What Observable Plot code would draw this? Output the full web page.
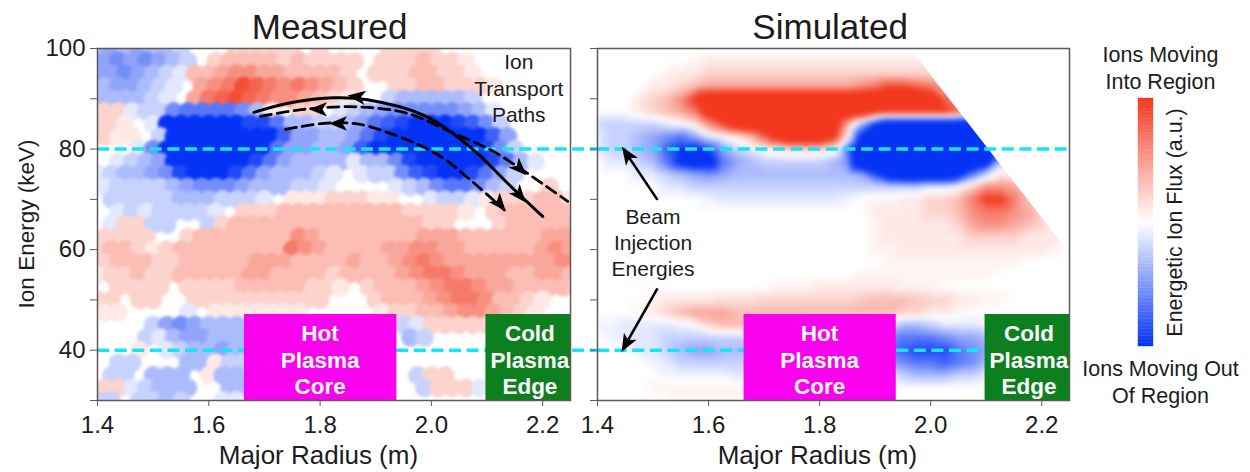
<!DOCTYPE html>
<html>
<head>
<meta charset="utf-8">
<script src="https://cdn.jsdelivr.net/npm/d3@7"></script>
<script src="https://cdn.jsdelivr.net/npm/@observablehq/plot@0.6"></script>
<style>
html,body{margin:0;padding:0;background:#fff;}
#stack{position:relative;width:1250px;height:472px;overflow:hidden;}
#stack svg{position:absolute;left:0;top:0;}
</style>
</head>
<body>
<div id="stack"></div>
<script>
const radiusGrid = [1.4,1.425,1.45,1.475,1.5,1.525,1.55,1.575,1.6,1.625,1.65,1.675,1.7,1.725,1.75,1.775,1.8,1.825,1.85,1.875,1.9,1.925,1.95,1.975,2.0,2.025,2.05,2.075,2.1,2.125,2.15,2.175,2.2,2.225,2.25];
const energyGrid = [100,97.5,95,92.5,90,87.5,85,82.5,80,77.5,75,72.5,70,67.5,65,62.5,60,57.5,55,52.5,50,47.5,45,42.5,40,37.5,35,32.5,30];

const measuredRows = [
[-3,-4,-3,-4,-3,-3,-2,0,0,0,2,2,2,2,2,0,2,0,0,0,0,2,2,2,2],
[-4,-5,-4,-5,-4,-3,-2,0,2,3,3,3,3,2,3,2,2,2,2,0,2,2,2,3,2,2,1],
[-4,-4,-5,-4,-3,-2,-1,3,3,4,5,5,4,4,3,3,3,3,2,0,2,2,2,3,3,2,2,1],
[-3,-4,-4,-3,-2,-1,0,4,5,6,8,7,6,5,6,5,4,3,2,0,0,2,2,3,3,2,2,2,1],
[-3,-3,-3,-3,-2,-1,0,4,6,7,8,7,6,5,5,4,3,2,1,0,0,-2,-3,-3,-3,-3,-3,-2],
[2,2,-1,-2,-2,-5,-6,-6,-6,-6,-5,-3,1,0,2,2,0,-1,-2,-3,-4,-5,-5,-5,-5,-5,-4,-3,-1],
[2,2,1,0,-1,-9,-9,-9,-9,-9,-9,-8,-8,-6,-3,-3,-2,-2,-3,-4,-6,-7,-8,-9,-9,-9,-8,-7,-5,-2],
[2,1,1,0,-2,-9,-9,-9,-9,-9,-9,-9,-9,-7,-4,-4,-3,-3,-4,-6,-8,-9,-9,-9,-9,-9,-9,-9,-7,-4],
[0,0,0,-1,-5,-9,-9,-9,-9,-9,-9,-9,-9,-6,-4,-4,-3,-3,-4,-7,-9,-9,-9,-9,-9,-9,-9,-9,-8,-5,-2],
[0,-1,-2,-3,-4,-9,-9,-9,-9,-9,-9,-8,-6,-4,-3,-3,-3,-3,-1,-3,-3,-5,-8,-9,-9,-9,-9,-9,-8,-6,-3,-1],
[-1,-2,-3,-3,-4,-5,-8,-9,-9,-9,-8,-6,-4,-3,-3,-3,-2,-1,0,-1,-2,-2,-5,-7,-8,-9,-9,-8,-6,-4,-2],
[-1,-2,-2,-2,-2,-3,-4,-5,-5,-5,-4,-3,-3,-3,-2,-2,-1,0,0,0,0,-1,-2,-3,-5,-6,-6,-5,-3,-2,0,0,2],
[0,-2,-2,-2,-2,-2,-3,-3,-3,-2,-2,-2,-1,0,1,1,1,2,2,2,1,1,0,0,-1,-2,-2,-1,1,2,2,2,3,3,1],
[0,-1,-2,-1,-2,-2,-2,-2,-1,0,2,2,2,3,3,3,3,3,3,3,3,3,2,2,2,2,1,0,2,3,3,3,3,3,2],
[0,-1,2,2,-2,-2,0,0,-2,2,3,3,3,3,3,3,3,3,3,3,3,3,3,3,2,2,0,0,0,2,3,3,3,3,3],
[2,2,2,2,0,0,2,3,3,3,3,3,3,3,5,4,3,3,3,3,3,3,3,4,4,4,3,3,3,3,3,3,4,4,4],
[2,3,3,2,1,2,3,3,3,3,3,3,3,3,6,5,4,3,3,3,3,4,4,5,5,4,4,3,3,3,3,3,4,5,4],
[2,3,3,3,2,2,3,3,3,3,3,4,4,4,3,3,3,3,4,3,3,4,5,6,5,4,4,4,4,4,4,4,4,5,5],
[1,2,2,3,2,2,3,3,3,3,3,4,4,3,3,3,3,2,3,3,3,3,4,5,6,6,5,4,4,4,3,3,4,4,3],
[0,2,2,2,2,0,2,2,2,2,3,3,3,3,3,2,2,1,0,2,3,3,3,4,5,6,6,5,4,4,3,3,3,3,2],
[2,2,0,2,2,0,0,2,2,2,2,2,2,2,2,2,2,0,0,0,2,3,3,3,4,5,6,6,5,3,3,2,1],
[1,1,0,0,0,0,-1,0,1,1,1,1,1,1,1,0,0,0,0,0,1,2,2,3,3,4,5,5,4,3,2,1],
[0,0,0,0,-2,-4,-5,-4,-3,-3,-3,0,0,0,0,0,0,0,0,0,0,0,-2,-1,2,2,2,2,2],
[0,0,0,-2,-1,-3,-4,-4,-3,-3,-3,0,0,0,0,0,0,0,0,0,0,0,-3,-2],
[0,0,0,1,0,-1,-2,-3,-3,-4,-3],
[0,-2,-2,0,0,0,-3,-3,1,-2,-2],
[0,-2,-2,0,-3,-3,-3,0,1,-3,-3,0,0,0,0,0,0,0,0,0,0,0,0,-2,2,2],
[2,2,-1,-2,-3,-3,-3,0,0,-3,-3,0,0,0,0,0,0,0,0,0,0,0,0,-2,2,2,2,-1],
[-2,-2,0,-2,-2,-3,-2,0,0,-1,-1]
];

const simulatedRows = [
[],
[0,0,0,0,0,0,0,.5,1,1,1,1,1,1,1,1,1,1,1,1,1,1,1,1,1,1],
[0,0,0,0,0,.5,1,1,2,2,2,2,2,2,2,2,2,2,2,2,2,2,2,2,2,2,2],
[0,0,0,0,1,1,2,3,4,4,4,4,4,4,4,4,4,4,4,5,6,8,8,7,6,4,3,3],
[0,0,0,1,2,3,5,9,13,14,14,14,14,14,14,14,14,14,14,14,14,14,14,14,12,7,5,3,3],
[0,0,0,1,2,3,4,6,11,14,14,14,14,14,14,14,14,14,14,14,10,9,9,9,9,9,7,4,2],
[-2,-2,-2,-2,-2,-1,0,1,5,8,12,14,14,14,14,14,14,12,4,-3,-9,-14,-14,-14,-14,-14,-14,-14,-14],
[-1,-2,-2,-3,-4,-5,-6,-4,-1,0,1,3,7,11,14,14,14,10,1,-10,-14,-14,-14,-14,-14,-14,-14,-14,-14,-14],
[-1,-2,-2,-3,-4,-7,-9,-10,-8,-4,-2,-1,0,1,2,2,2,1,-6,-14,-14,-14,-14,-14,-14,-14,-14,-14,-14,-14],
[0,-1,-1,-2,-3,-6,-10,-12,-11,-6,-4,-3,-2,-2,-2,-2,-2,-3,-5,-14,-14,-14,-14,-14,-14,-14,-14,-14,-12,-3],
[0,0,0,-1,-1,-2,-3,-4,-5,-4,-3,-3,-3,-3,-3,-3,-3,-3,-3,-4,-8,-13,-14,-14,-14,-14,-11,-6,-2,1,1],
[0,0,0,0,0,-1,-1,-2,-2,-2,-2,-2,-2,-2,-2,-2,-2,-2,-2,-2,-2,-2,-2,-2,-1,-1,0,2,5,5,4,3],
[0,0,0,0,0,0,0,0,-.5,-1,-1,-1,-1,-1,-1,-1,-1,-1,-.5,0,.5,.5,1,1,2,2,3,6,9,9,6,3,2],
[0,0,0,0,0,0,0,0,0,0,0,0,0,0,0,0,0,0,0,0,1,1,1,1,2,2,3,5,6,6,5,4,2],
[0,0,0,0,0,0,0,0,0,0,0,0,0,0,0,0,0,0,0,0,.5,1,1,1,1,1,2,4,5,5,4,3,2,1],
[0,0,0,0,0,0,0,0,0,0,0,0,0,0,0,0,0,0,0,0,.5,1,1,1,1,1,1,2,2,2,2,1,1,1,.5],
[0,0,0,0,0,0,0,0,0,0,0,0,0,0,0,0,0,0,0,0,.5,.5,1,1,1,1,1,1,1,1,1,1,1,.5],
[0,0,0,0,0,0,0,0,0,0,0,0,0,0,0,0,0,0,0,0,0,.5,.5,.5,.5,.5,.5,.5,.5,.5,.5],
[0,0,0,0,0,0,0,0,0,0,0,0,0,0,0,0,0,0,0,.5,.5,.5,.5,.5,.5,.5,.5,.5,.5],
[0,0,0,0,0,0,0,0,0,0,0,0,0,.5,.5,.5,1,1,1,1,1,1,.5,.5,.5],
[0,0,0,0,.5,1,1,1,1,1.5,1.5,1.5,2,2,2,2,2,2,2,2.5,3,3,3,2.5,2,2,1,1,.5,.5],
[0,0,0,.5,1,2,3,4,4,4,3,3,3,3,3,3,3,3,3,3,3,3,2,2,1,1,.5],
[-.5,-.5,-1,-1,-1,-1,-.5,0,2,3,3,3,3,3,3,3,2,2,2,1,0,-1,-3,-3,-2,-1,-1,-1,-.5],
[0,-.5,-1,-1,-1,-2,-2,-2,-2,-2,-2,-2,-2,-2,-2,-2,-2,-2,-3,-3,-4,-5,-6,-6,-6,-5,-4,-4,-3],
[0,0,0,-1,-1,-2,-3,-4,-4,-3,-3,-3,-3,-3,-3,-3,-3,-3,-4,-4,-5,-6,-7,-8,-8,-8,-6,-5,-4],
[0,0,0,0,-.5,-1,-2,-2,-2,-2,-2,-2,-2,-2,-2,-2,-2,-2,-3,-3,-4,-4,-5,-6,-6,-7,-6,-5,-3],
[0,0,0,0,0,-.5,-.5,-.5,-.5,-.5,-1,-1,-1,-1,-1,-1,-1,-1,-1,-1,-1,-1,-2,-3,-3,-3,-2,-2,-1],
[0,0,0,0,.5,.5,.5,.5,.5,.5,.5,.5],
[0,0,0,0,0,0,.5,.5,.5,.5,.5]
];

const xTicks = [1.4,1.6,1.8,2.0,2.2];
const yTicks = [100,90,80,70,60,50,40,30];
const beamEnergies = [80,40];

const boxNames = ["Hot\nPlasma\nCore","Cold\nPlasma\nEdge"];
const boxStart = [1.664,2.098];
const boxEnd = [1.938,2.25];
const boxCenter = [1.8,2.177];
const boxFill = ["#f900ee","#0c7f1e"];
const boxTop = 47.1;

const solidPathR = [1.681,1.747,1.825,1.885,1.987,2.047,2.089,2.137,2.2];
const solidPathE = [87.3,89.2,90.2,89.8,86.7,82.4,78.5,73.2,66.6];
const dashUpperR = [1.693,1.771,1.867,1.957,2.035,2.107,2.155,2.245];
const dashUpperE = [86.5,87.9,88.4,87.1,83.4,79.8,76.5,69.6];
const dashLowerR = [1.738,1.807,1.867,1.957,2.017,2.077,2.131];
const dashLowerE = [83.9,85.1,85,81.8,78.5,73.2,67.9];
const headR = [1.867,2.158,1.798,2.158,1.834,2.122];
const headE = [90.4,70.9,87.9,76.2,85.1,69.2];
const headAngle = [-82,140,-90,135,-90,140];

const maskR = [1.963,2.25];
const maskE = [100,59.3];
const beamArrowR1 = [1.508,1.508];
const beamArrowE1 = [69.9,52.3];
const beamArrowR2 = [1.454,1.452];
const beamArrowE2 = [78.8,41.4];
const beamHeadAngle = [-34,-151];

const legendStops = d3.range(-9,9,0.25);

const font = "Liberation Sans, Arial, sans-serif";
const ink = "#1c1c1c";
const frameInk = "#5a5a5a";
const cyan = "#17e4f4";
const colorScale = {type:"linear",domain:[-9,0,9],range:["#0533f5","#ffffff","#f2381e"],clamp:true};
const stealth = {draw(c,size){const s=Math.sqrt(size/Math.PI);c.moveTo(0,-s);c.lineTo(.72*s,.8*s);c.lineTo(0,.35*s);c.lineTo(-.72*s,.8*s);c.closePath();}};
const zip = (a,b)=>a.map((v,i)=>[v,b[i]]);
const cells = rows => rows.flatMap((row,r)=>radiusGrid.map((R,c)=>({R,E:energyGrid[r],row:r,v:row[c]??0})));
const boxes = boxNames.map((name,i)=>({name,x1:boxStart[i],x2:boxEnd[i],cx:boxCenter[i],fill:boxFill[i]}));
const soften = px => (index,scales,values,dims,context,next) => {
  const g = next(index,scales,values,dims,context);
  g.style.filter = `blur(${px}px)`;
  return g;
};

function panel({left,right,body,extra,title,titleR,labelR,lineEnd,yLabels}){
  return Plot.plot({
    width:1250,height:472,marginLeft:left,marginRight:right,marginTop:48,marginBottom:72,
    style:{background:"none",fontFamily:font,color:ink},
    x:{domain:[1.4,2.25]},y:{domain:[30,100]},color:colorScale,
    marks:[
      ...body,
      Plot.ruleY(beamEnergies,{x1:1.4,x2:lineEnd,stroke:cyan,strokeWidth:3.5,strokeDasharray:"12 5.6"}),
      Plot.rectY(boxes,{x1:"x1",x2:"x2",y1:30,y2:boxTop,fill:"fill"}),
      Plot.text(boxes,{x:"cx",y:38.2,text:"name",fill:"white",fontSize:22.5,fontWeight:"bold",lineHeight:1.18}),
      ...extra,
      Plot.frame({stroke:frameInk,strokeWidth:1.5}),
      Plot.axisX({ticks:xTicks,tickFormat:".1f",tickSize:6,tickPadding:9,fontSize:24,stroke:frameInk,fill:ink,label:null}),
      Plot.axisY({ticks:yTicks,tickFormat:yLabels?(d=>d%20===0?d:""):(()=>""),tickSize:7,tickPadding:5,fontSize:24,stroke:frameInk,fill:ink,label:null}),
      Plot.text([title],{x:titleR,frameAnchor:"top",lineAnchor:"middle",dy:-21,fontSize:35,fill:ink}),
      Plot.text(["Major Radius (m)"],{x:labelR,frameAnchor:"bottom",lineAnchor:"middle",dy:55,fontSize:26,fill:ink})
    ]
  });
}

const measuredPanel = panel({
  left:97,right:680,title:"Measured",titleR:1.817,labelR:1.797,lineEnd:2.2986,yLabels:true,
  body:[
    Plot.dot(cells(measuredRows).filter(d=>d.v!==0),{x:d=>d.R+(d.row%2)*0.0125,y:"E",r:9.4,fill:"v",clip:"frame",render:soften(1.6)})
  ],
  extra:[
    Plot.line(zip(solidPathR,solidPathE),{x:"0",y:"1",curve:"catmull-rom",stroke:"#000",strokeWidth:3}),
    Plot.line(zip(dashUpperR,dashUpperE),{x:"0",y:"1",curve:"catmull-rom",stroke:"#000",strokeWidth:2.8,strokeDasharray:"11 6"}),
    Plot.line(zip(dashLowerR,dashLowerE),{x:"0",y:"1",curve:"catmull-rom",stroke:"#000",strokeWidth:2.8,strokeDasharray:"11 6"}),
    Plot.dot(headR.map((R,i)=>({R,E:headE[i],a:headAngle[i]})),{x:"R",y:"E",rotate:"a",symbol:stealth,r:10,fill:"#000",stroke:"none"}),
    Plot.text(["Ion\nTransport\nPaths"],{x:2.157,y:92.3,fontSize:21,lineHeight:1.25,fill:ink}),
    Plot.text(["Ion Energy (keV)"],{frameAnchor:"left",y:65.1,dx:-71,rotate:-90,textAnchor:"middle",lineAnchor:"middle",fontSize:22.5,fill:ink})
  ]
});

const simulatedPanel = panel({
  left:597,right:181,title:"Simulated",titleR:1.819,labelR:1.796,lineEnd:2.25,yLabels:false,
  body:[
    Plot.raster(cells(simulatedRows),{x:"R",y:"E",fill:"v",interpolate:"barycentric",x1:1.4,x2:2.25,y1:100,y2:30,pixelSize:1,render:soften(2.4)}),
    Plot.areaX(zip(maskR,maskE),{x1:"0",x2:2.25,y:"1",fill:"white"})
  ],
  extra:[
    Plot.link(beamArrowR1.map((r,i)=>i),{x1:i=>beamArrowR1[i],y1:i=>beamArrowE1[i],x2:i=>beamArrowR2[i],y2:i=>beamArrowE2[i],stroke:"#000",strokeWidth:2.6}),
    Plot.dot(beamArrowR2.map((R,i)=>({R,E:beamArrowE2[i],a:beamHeadAngle[i]})),{x:"R",y:"E",rotate:"a",symbol:stealth,r:10,fill:"#000",stroke:"none"}),
    Plot.text(["Beam\nInjection\nEnergies"],{x:1.50,y:61.6,fontSize:21,lineHeight:1.25,fill:ink})
  ]
});

const legendPanel = Plot.plot({
  width:1250,height:472,marginLeft:1138,marginRight:97,marginTop:98,marginBottom:126,
  style:{background:"none",fontFamily:font,color:ink},
  x:{domain:[0,1],axis:null},y:{domain:[-9,9],axis:null},color:colorScale,
  marks:[
    Plot.rect(legendStops,{x1:0,x2:1,y1:d=>d,y2:d=>d+0.25,fill:d=>d+0.125,stroke:d=>d+0.125,strokeWidth:.4}),
    Plot.text(["Ions Moving\nInto Region"],{x:1.467,frameAnchor:"top",lineAnchor:"middle",dy:-32,fontSize:21.5,lineHeight:1.25,fill:ink}),
    Plot.text(["Ions Moving Out\nOf Region"],{x:1.467,frameAnchor:"bottom",lineAnchor:"middle",dy:34,fontSize:21.5,lineHeight:1.25,fill:ink}),
    Plot.text(["Energetic Ion Flux (a.u.)"],{x:2.47,y:0,rotate:-90,fontSize:21.4,fill:ink})
  ]
});

const stack = document.getElementById("stack");
stack.append(measuredPanel,simulatedPanel,legendPanel);
</script>
</body>
</html>
